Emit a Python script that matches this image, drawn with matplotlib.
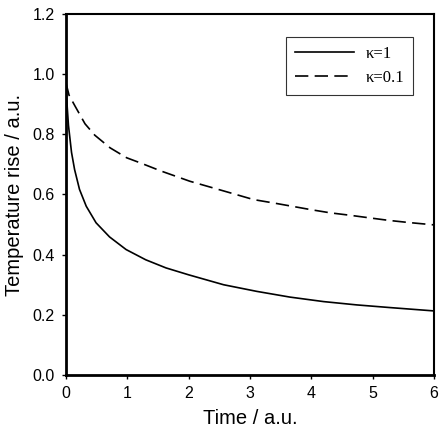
import matplotlib
matplotlib.use("Agg")
import matplotlib.pyplot as plt

# kappa = 1 (solid)
solid_t = [0, 0.005, 0.02, 0.04, 0.09, 0.14, 0.22, 0.33, 0.49, 0.71, 0.98,
           1.30, 1.63, 2.0, 2.57, 3.11, 3.65, 4.20, 4.74, 5.29, 6.0]
solid_v = [1.0, 0.95, 0.89, 0.83, 0.74, 0.683, 0.617, 0.561, 0.506, 0.459, 0.417,
           0.383, 0.356, 0.333, 0.300, 0.278, 0.259, 0.244, 0.233, 0.224, 0.213]

# kappa = 0.1 (dashed)
dashed_t = [0, 0.05, 0.147, 0.31, 0.47, 0.72, 0.99, 1.2, 1.55, 2.02, 2.67, 3.06,
            3.38, 3.71, 4.01, 4.31, 4.63, 4.96, 5.26, 5.58, 6.0]
dashed_v = [0.97, 0.93, 0.894, 0.835, 0.797, 0.755, 0.722, 0.706, 0.678, 0.644, 0.606, 0.583,
            0.572, 0.560, 0.549, 0.539, 0.531, 0.522, 0.514, 0.507, 0.499]

labels = ["\u03ba=1", "\u03ba=0.1"]
xticks = [0, 1, 2, 3, 4, 5, 6]
yticks = [0.0, 0.2, 0.4, 0.6, 0.8, 1.0, 1.2]

plt.rcParams['font.family'] = ['Liberation Sans', 'DejaVu Sans']

fig = plt.figure(figsize=(4.42, 4.45), dpi=100)
ax = fig.add_axes([66 / 442, 1 - 375 / 445, 368 / 442, 361 / 445])

lw = 1.2
ax.plot(solid_t, solid_v, color="black", lw=lw, label=labels[0])
ax.plot(dashed_t, dashed_v, color="black", lw=lw, dashes=(8, 3.8), label=labels[1])

ax.set_xlim(0, 6)
ax.set_ylim(0, 1.2)
ax.set_xticks(xticks)
ax.set_yticks(yticks)
ax.set_yticklabels(["%.1f" % v for v in yticks])
ax.tick_params(direction="out", length=3, width=1, labelsize=11.5, pad=5)

for s in ax.spines.values():
    s.set_linewidth(1.5)
ax.spines["left"].set_linewidth(2)
ax.spines["bottom"].set_linewidth(2)

ax.set_xlabel("Time / a.u.", fontsize=14.5, labelpad=6)
ax.set_ylabel("Temperature rise / a.u.", fontsize=14.5, labelpad=6)

leg = ax.legend(loc="upper right", bbox_to_anchor=(0.943, 0.936), borderaxespad=0,
                prop={"family": ["Liberation Serif", "DejaVu Serif"], "size": 12},
                handlelength=3.55, handletextpad=0.66, frameon=True, fancybox=False,
                edgecolor="black", borderpad=0.55, labelspacing=0.45)
leg.get_frame().set_linewidth(0.8)

fig.savefig("out.png", dpi=100)
